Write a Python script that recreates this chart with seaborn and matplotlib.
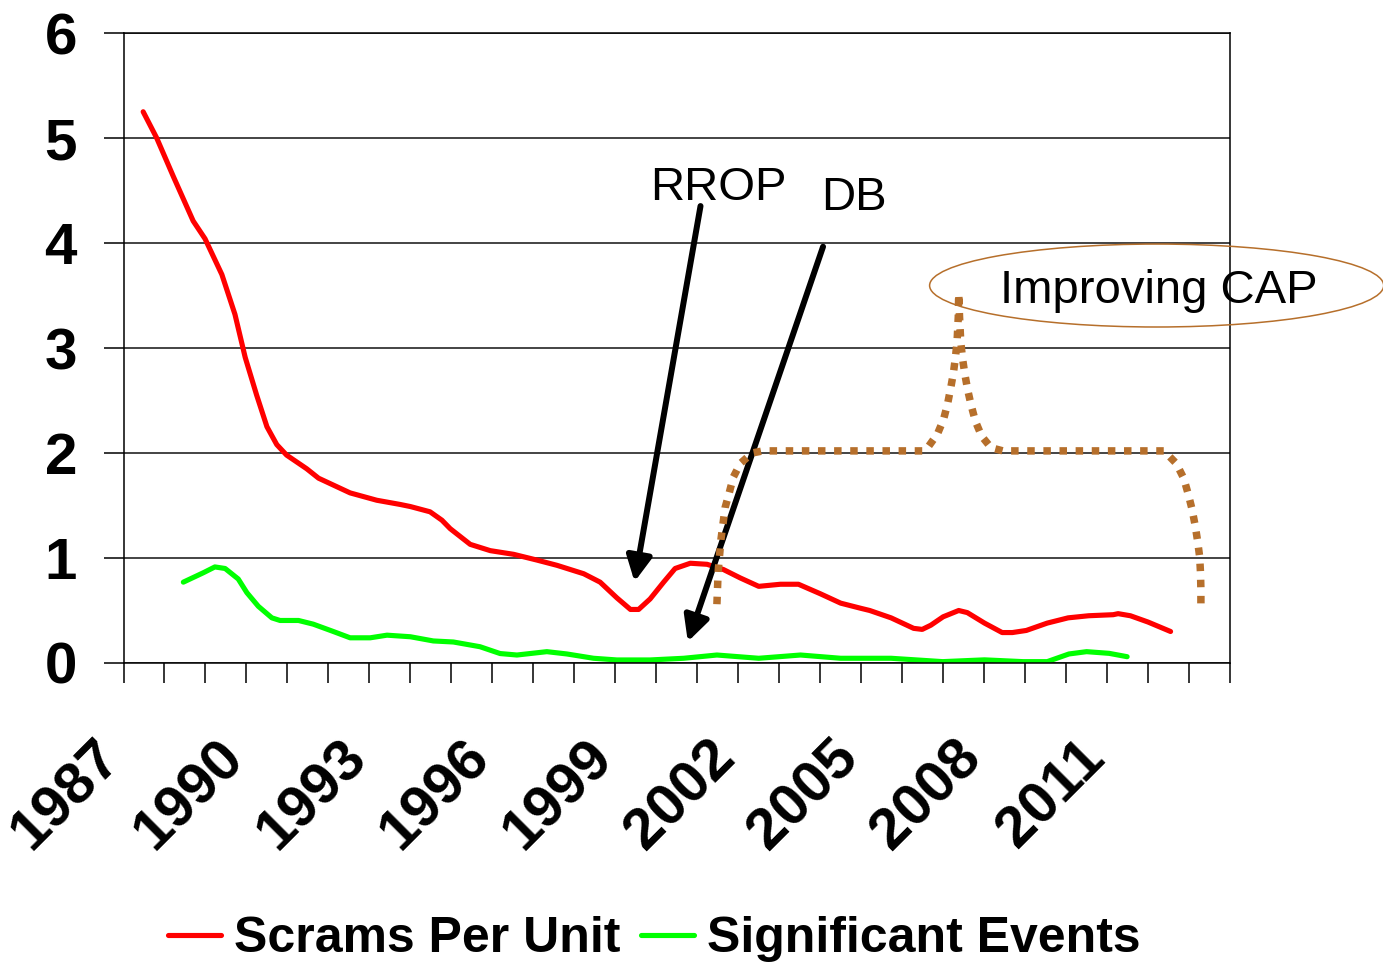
import numpy as np
import pandas as pd
import matplotlib
matplotlib.use("Agg")
import matplotlib.pyplot as plt
import matplotlib.transforms as mtransforms
import seaborn as sns
from matplotlib.patches import Ellipse

# ---------------- data ----------------
scram_years = [1987.48, 1987.81, 1988.22, 1988.70, 1988.99, 1989.40, 1989.72, 1989.97,
               1990.25, 1990.50, 1990.74, 1990.98, 1991.47, 1991.76, 1992.53, 1993.18,
               1993.75, 1994.00, 1994.48, 1994.77, 1994.97, 1995.46, 1995.95, 1996.52,
               1997.09, 1997.58, 1998.23, 1998.63, 1999.04, 1999.37, 1999.57, 1999.85,
               2000.18, 2000.46, 2000.83, 2001.24, 2001.64, 2002.05, 2002.50, 2003.03,
               2003.47, 2004.00, 2004.50, 2005.00, 2005.21, 2005.73, 2006.28, 2006.49,
               2006.70, 2007.00, 2007.38, 2007.59, 2008.01, 2008.44, 2008.69, 2009.03,
               2009.54, 2010.05, 2010.55, 2011.15, 2011.27, 2011.57, 2012.00, 2012.55]
scram_values = [5.25, 5.00, 4.63, 4.21, 4.04, 3.70, 3.32, 2.91,
                2.55, 2.25, 2.08, 1.98, 1.85, 1.76, 1.62, 1.55,
                1.51, 1.49, 1.44, 1.36, 1.28, 1.13, 1.07, 1.035,
                0.98, 0.93, 0.85, 0.77, 0.62, 0.51, 0.51, 0.61,
                0.77, 0.90, 0.95, 0.94, 0.89, 0.81, 0.73, 0.75,
                0.75, 0.66, 0.57, 0.52, 0.50, 0.43, 0.33, 0.32,
                0.36, 0.44, 0.50, 0.48, 0.38, 0.29, 0.29, 0.31,
                0.38, 0.43, 0.45, 0.46, 0.47, 0.45, 0.39, 0.30]

sig_years = [1988.46, 1988.95, 1989.23, 1989.48, 1989.80, 1990.01, 1990.29, 1990.62,
             1990.82, 1991.27, 1991.63, 1992.12, 1992.53, 1993.02, 1993.43, 1994.00,
             1994.56, 1995.05, 1995.70, 1996.19, 1996.60, 1997.33, 1997.82, 1998.47,
             1999.04, 1999.85, 2000.67, 2001.48, 2002.50, 2003.52, 2004.50, 2005.73,
             2006.99, 2008.01, 2008.95, 2009.54, 2010.07, 2010.50, 2011.05, 2011.49]
sig_values = [0.77, 0.86, 0.915, 0.90, 0.80, 0.67, 0.54, 0.43,
              0.405, 0.405, 0.37, 0.30, 0.24, 0.24, 0.265, 0.25,
              0.21, 0.20, 0.155, 0.09, 0.076, 0.108, 0.086, 0.045,
              0.029, 0.029, 0.045, 0.076, 0.045, 0.076, 0.045, 0.045,
              0.013, 0.03, 0.013, 0.013, 0.086, 0.108, 0.092, 0.06]

cap_years = [2001.48, 2001.51, 2001.58, 2001.68, 2001.78, 2001.88, 2002.05, 2002.34, 2002.60,
             2006.50, 2006.62, 2006.86, 2007.01, 2007.11, 2007.19, 2007.25, 2007.30, 2007.34,
             2007.37, 2007.38, 2007.40, 2007.43, 2007.47, 2007.53, 2007.60, 2007.68, 2007.79,
             2007.94, 2008.17, 2008.46, 2012.39, 2012.69, 2012.87, 2012.98, 2013.07, 2013.15,
             2013.21, 2013.26, 2013.28, 2013.29, 2013.29]
cap_values = [0.56, 0.87, 1.18, 1.48, 1.62, 1.77, 1.90, 2.00, 2.02,
              2.02, 2.05, 2.18, 2.32, 2.47, 2.63, 2.76, 2.91, 3.06,
              3.30, 3.52, 3.30, 3.06, 2.91, 2.75, 2.60, 2.46, 2.30,
              2.16, 2.05, 2.02, 2.02, 1.90, 1.76, 1.61, 1.47, 1.31,
              1.16, 1.01, 0.86, 0.70, 0.55]

series_names = ["Scrams Per Unit", "Significant Events"]
series_colors = ["#FF0000", "#00FF00"]
tick_years = list(range(1987, 2015))
label_years = [1987, 1990, 1993, 1996, 1999, 2002, 2005, 2008, 2011]
y_ticks = [0, 1, 2, 3, 4, 5, 6]

# ---------------- style ----------------
sns.set_style("ticks")
plt.rcParams["font.family"] = ["Liberation Sans", "DejaVu Sans"]
for k in ["text.color", "axes.labelcolor", "xtick.color", "ytick.color",
          "xtick.labelcolor", "ytick.labelcolor"]:
    plt.rcParams[k] = "black"

W, H = 1383, 963
fig = plt.figure(figsize=(W / 100, H / 100), dpi=100)
x0, x1, ytop, ybot = 123.5, 1230, 33, 663
ax = fig.add_axes([x0 / W, 1 - ybot / H, (x1 - x0) / W, (ybot - ytop) / H])

df = pd.concat([
    pd.DataFrame({"year": scram_years, "value": scram_values, "series": series_names[0]}),
    pd.DataFrame({"year": sig_years, "value": sig_values, "series": series_names[1]}),
])
sns.lineplot(data=df, x="year", y="value", hue="series", hue_order=series_names,
             palette=dict(zip(series_names, series_colors)), estimator=None, sort=False,
             linewidth=3.7, ax=ax, zorder=2)

ax.set_xlim(1987, 2014)
ax.set_ylim(0, 6)
ax.set_xlabel("")
ax.set_ylabel("")

ax.set_xticks(tick_years)
ax.set_xticklabels([str(y) if y in label_years else "" for y in tick_years],
                   rotation=45, ha="right", va="center", rotation_mode="anchor",
                   fontsize=42, fontweight="bold")
ax.set_yticks(y_ticks)
ax.set_yticklabels([str(v) for v in y_ticks], fontsize=42, fontweight="bold")
ax.tick_params(axis="both", direction="out", length=14.4, width=1.1, color="black",
               bottom=True, left=True)
ax.tick_params(axis="x", pad=48)
ax.tick_params(axis="y", pad=19)

# nudge rotated year labels slightly left
shift = mtransforms.ScaledTranslation(-11 / 100, 0, fig.dpi_scale_trans)
for lab in ax.get_xticklabels():
    lab.set_transform(lab.get_transform() + shift)

ax.yaxis.grid(True, color="#111111", lw=1.1)
ax.xaxis.grid(False)
ax.set_axisbelow(True)
for s in ax.spines.values():
    s.set_visible(True)
    s.set_color("black")
    s.set_linewidth(1.1)

# CAP dotted curve
ax.plot(cap_years, cap_values, color="#B66F2B", lw=5.4, linestyle=(0, (1, 1.15)),
        dash_capstyle="butt", clip_on=False, zorder=4)

# arrows
arrow_kw = dict(arrowstyle="-|>,head_length=0.75,head_width=0.38", lw=4.3, color="black",
                shrinkA=0, shrinkB=0, mutation_scale=20)
ax.annotate("", xy=(1999.47, 0.774), xytext=(2001.08, 4.352), arrowprops=arrow_kw, zorder=3)
ax.annotate("", xy=(2000.77, 0.203), xytext=(2004.07, 3.965), arrowprops=arrow_kw, zorder=3)

# texts
ax.text(1999.84, 4.41, "RROP", fontsize=34, ha="left", va="baseline")
ax.text(2004.03, 4.314, "DB", fontsize=34, ha="left", va="baseline")
ax.text(2012.27, 3.431, "Improving CAP", fontsize=34, ha="center", va="baseline", clip_on=False)
ax.add_patch(Ellipse((2012.21, 3.595), 11.08, 0.79, fill=False, edgecolor="#B66F2B",
                     lw=1.1, clip_on=False, zorder=5))

# legend
handles, labels = ax.get_legend_handles_labels()
if ax.get_legend() is not None:
    ax.get_legend().remove()
leg = fig.legend(handles, labels, loc="center", bbox_to_anchor=(654 / W, 1 - 939 / H), ncol=2,
                 frameon=False, prop={"weight": "bold", "size": 36}, handlelength=1.06,
                 handletextpad=0.26, columnspacing=0.42, borderpad=0, borderaxespad=0)
for lh in leg.get_lines():
    lh.set_linewidth(3.7)

fig.savefig("out.png", dpi=100)
